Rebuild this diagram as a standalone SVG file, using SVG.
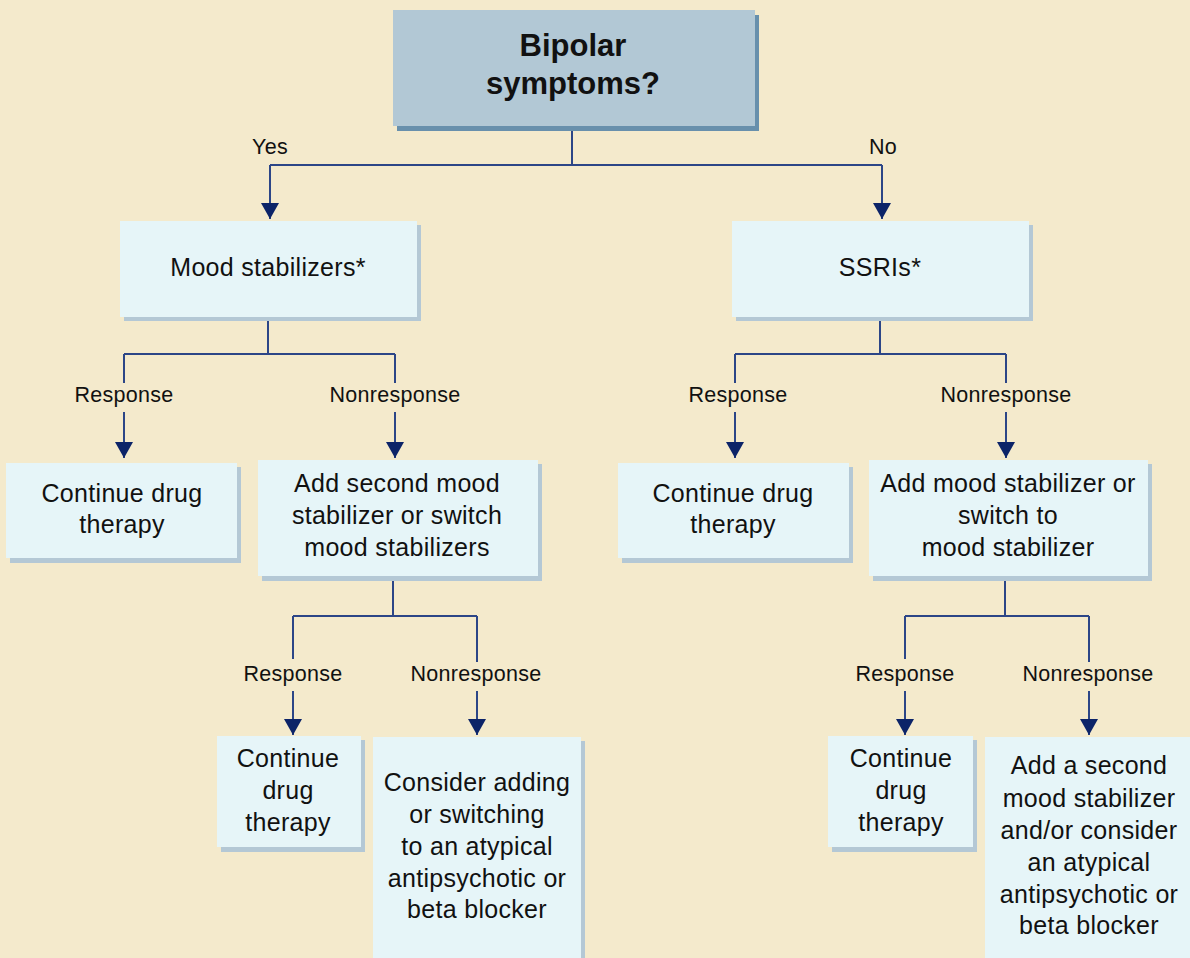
<svg xmlns="http://www.w3.org/2000/svg" width="1190" height="958" viewBox="0 0 1190 958">
<defs>
<style>
.bg{fill:#F4EACC}
.top{fill:#B2C8D5}
.topsh{fill:#6890AC}
.box{fill:#E6F5F8}
.sh{fill:#B4C8D5}
.t{font-family:"Liberation Sans",Arial,sans-serif;font-size:25px;fill:#111;text-anchor:middle;letter-spacing:0.3px}
.title{font-family:"Liberation Sans",Arial,sans-serif;font-size:31px;font-weight:bold;fill:#111;text-anchor:middle}
.lbl{font-family:"Liberation Sans",Arial,sans-serif;font-size:21.5px;fill:#111;text-anchor:middle;letter-spacing:0.3px}
.c{fill:none;stroke:#2C4687;stroke-width:2}
</style>
<marker id="ah" markerUnits="userSpaceOnUse" markerWidth="16" markerHeight="18" viewBox="0 0 16 18" refX="16" refY="9" orient="auto">
<path d="M0,0 L16,9 L0,18 Z" fill="#0C2468"/>
</marker>
</defs>
<rect class="bg" x="0" y="0" width="1190" height="958"/>

<g id="connectors">
<path class="c" d="M572,126 V165 M270,165 H882"/>
<path class="c" d="M270,165 V219" marker-end="url(#ah)"/>
<path class="c" d="M882,165 V219" marker-end="url(#ah)"/>
<path class="c" d="M268,317 V354 M124,354 H395 M124,354 V383 M395,354 V383"/>
<path class="c" d="M124,412 V458" marker-end="url(#ah)"/>
<path class="c" d="M395,412 V458" marker-end="url(#ah)"/>
<path class="c" d="M880,317 V354 M735,354 H1006 M735,354 V383 M1006,354 V383"/>
<path class="c" d="M735,412 V458" marker-end="url(#ah)"/>
<path class="c" d="M1006,412 V458" marker-end="url(#ah)"/>
<path class="c" d="M393,576 V616 M293,616 H477 M293,616 V659 M477,616 V662"/>
<path class="c" d="M293,691 V735" marker-end="url(#ah)"/>
<path class="c" d="M477,691 V735" marker-end="url(#ah)"/>
<path class="c" d="M1005,576 V616 M905,616 H1089 M905,616 V659 M1089,616 V662"/>
<path class="c" d="M905,691 V735" marker-end="url(#ah)"/>
<path class="c" d="M1089,691 V735" marker-end="url(#ah)"/>
<text class="lbl" x="270" y="154">Yes</text>
<text class="lbl" x="883" y="154">No</text>
<text class="lbl" x="124" y="402">Response</text>
<text class="lbl" x="395" y="402">Nonresponse</text>
<text class="lbl" x="738" y="402">Response</text>
<text class="lbl" x="1006" y="402">Nonresponse</text>
<text class="lbl" x="293" y="681">Response</text>
<text class="lbl" x="476" y="681">Nonresponse</text>
<text class="lbl" x="905" y="681">Response</text>
<text class="lbl" x="1088" y="681">Nonresponse</text>
</g>

<g id="n-bipolar">
<rect class="topsh" x="397" y="15" width="362" height="116"/>
<rect class="top" x="393" y="10" width="362" height="116"/>
<text class="title" x="573" y="56">Bipolar</text>
<text class="title" x="573" y="94">symptoms?</text>
</g>

<g id="n-mood">
<rect class="sh" x="124" y="225" width="297" height="96"/>
<rect class="box" x="120" y="221" width="297" height="96"/>
<text class="t" x="268" y="276">Mood stabilizers*</text>
</g>

<g id="n-ssri">
<rect class="sh" x="736" y="225" width="297" height="96"/>
<rect class="box" x="732" y="221" width="297" height="96"/>
<text class="t" x="880" y="276">SSRIs*</text>
</g>

<g id="n-cont1">
<rect class="sh" x="10" y="467" width="231" height="96"/>
<rect class="box" x="6" y="463" width="231" height="95"/>
<text class="t" x="122" y="502">Continue drug</text>
<text class="t" x="122" y="533">therapy</text>
</g>

<g id="n-add2">
<rect class="sh" x="262" y="464" width="280" height="117"/>
<rect class="box" x="258" y="460" width="280" height="116"/>
<text class="t" x="397" y="492">Add second mood</text>
<text class="t" x="397" y="524">stabilizer or switch</text>
<text class="t" x="397" y="556">mood stabilizers</text>
</g>

<g id="n-cont2">
<rect class="sh" x="622" y="467" width="231" height="96"/>
<rect class="box" x="618" y="463" width="231" height="95"/>
<text class="t" x="733" y="502">Continue drug</text>
<text class="t" x="733" y="533">therapy</text>
</g>

<g id="n-addms">
<rect class="sh" x="873" y="464" width="279" height="117"/>
<rect class="box" x="869" y="460" width="279" height="116"/>
<text class="t" x="1008" y="492">Add mood stabilizer or</text>
<text class="t" x="1008" y="524">switch to</text>
<text class="t" x="1008" y="556">mood stabilizer</text>
</g>

<g id="n-cont3">
<rect class="sh" x="221" y="740" width="144" height="112"/>
<rect class="box" x="217" y="736" width="144" height="111"/>
<text class="t" x="288" y="767">Continue</text>
<text class="t" x="288" y="799">drug</text>
<text class="t" x="288" y="831">therapy</text>
</g>

<g id="n-consider">
<rect class="sh" x="377" y="741" width="208" height="230"/>
<rect class="box" x="373" y="737" width="208" height="230"/>
<text class="t" x="477" y="791">Consider adding</text>
<text class="t" x="477" y="823">or switching</text>
<text class="t" x="477" y="855">to an atypical</text>
<text class="t" x="477" y="887">antipsychotic or</text>
<text class="t" x="477" y="918">beta blocker</text>
</g>

<g id="n-cont4">
<rect class="sh" x="832" y="740" width="145" height="112"/>
<rect class="box" x="828" y="736" width="145" height="111"/>
<text class="t" x="901" y="767">Continue</text>
<text class="t" x="901" y="799">drug</text>
<text class="t" x="901" y="831">therapy</text>
</g>

<g id="n-addsecond">
<rect class="box" x="985" y="737" width="210" height="230"/>
<text class="t" x="1089" y="774">Add a second</text>
<text class="t" x="1089" y="807">mood stabilizer</text>
<text class="t" x="1089" y="839">and/or consider</text>
<text class="t" x="1089" y="871">an atypical</text>
<text class="t" x="1089" y="903">antipsychotic or</text>
<text class="t" x="1089" y="934">beta blocker</text>
</g>
</svg>
